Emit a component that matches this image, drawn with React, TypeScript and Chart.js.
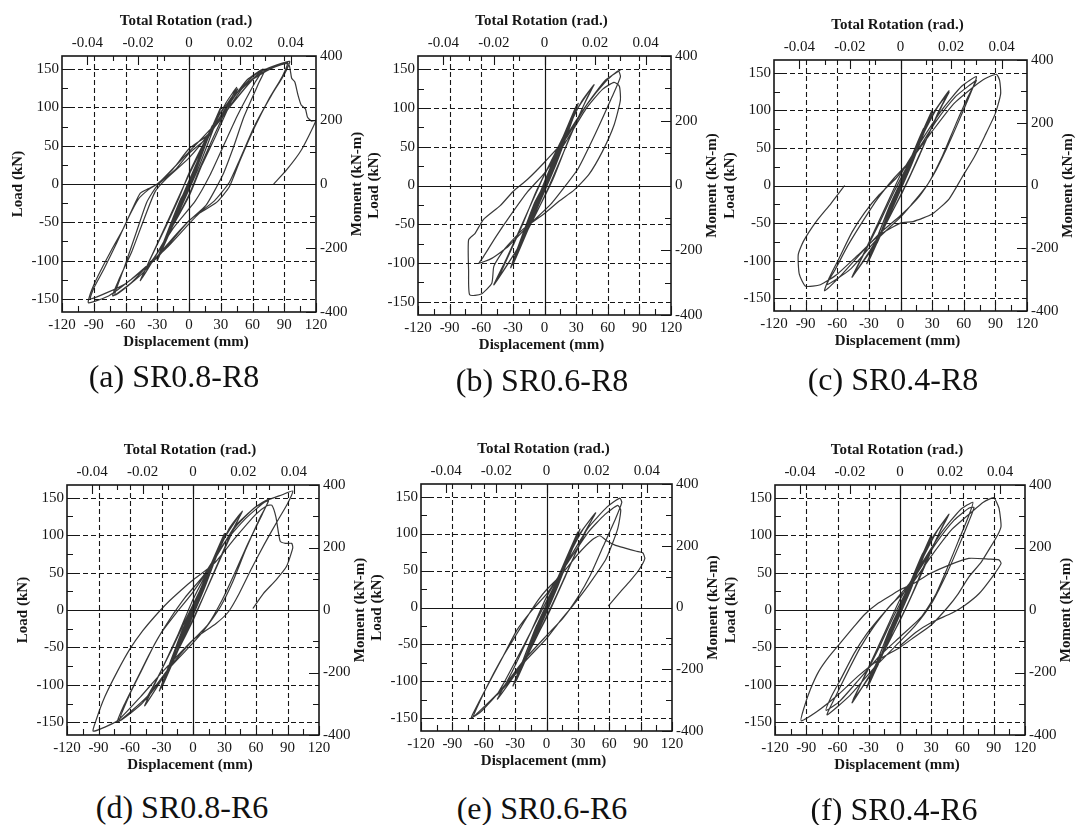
import React, { useEffect, useRef } from 'react';
import { Chart, registerables } from 'chart.js';

Chart.register(...registerables);

// ---------- axis values ----------
const dispTicks = [-120, -90, -60, -30, 0, 30, 60, 90, 120];
const dispMinor = [-105, -75, -45, -15, 15, 45, 75, 105];
const dispGrid = [-90, -60, -30, 30, 60, 90];
const loadTicks = [-150, -100, -50, 0, 50, 100, 150];
const loadMinor = [-125, -75, -25, 25, 75, 125];
const loadGrid = [-150, -100, -50, 50, 100, 150];
const momentTicks = [-400, -200, 0, 200, 400];
const momentMinor = [-300, -100, 100, 300];
const rotationTicks = [-0.04, -0.02, 0, 0.02, 0.04];
const rotationMinor = [-0.03, -0.01, 0.01, 0.03];
const rotationPerMm = 0.04 / 96;
const dispRange = [-120, 120];
const loadRange = [-167, 167];
const momentRange = [-400, 400];

// ---------- hysteresis curves: [displacement (mm), load (kN)] ----------
const curveA: number[][] = [
  [0, 0], [8, 28], [1, 3], [-8, -28], [-1, -3],
  [15, 52], [3, 8], [-15, -52], [-3, -8],
  [22, 76], [5, 12], [-22, -74], [-5, -12],
  [30, 100], [20, 68], [6, 15], [-5, -22], [-30, -100], [-20, -66], [-6, -15], [5, 20],
  [30, 98], [8, 18], [-30, -98], [-8, -20], [0, 0],
  [20, 66], [35, 106], [45, 126], [38, 106], [22, 58], [10, 20], [0, -14], [-20, -66], [-35, -102], [-45, -124], [-38, -102], [-22, -56], [-10, -20], [0, 14],
  [25, 82], [46, 124], [40, 108], [25, 62], [12, 24], [0, -16], [-25, -78], [-46, -126], [-36, -96], [-18, -42], [0, 12],
  [18, 60], [36, 100], [55, 136], [70, 150], [63, 134], [46, 90], [32, 48], [20, 12], [6, -22], [-14, -56], [-34, -98], [-54, -128], [-72, -146], [-66, -124], [-54, -88], [-42, -44], [-32, -10], [-22, 6], [0, 34], [20, 68],
  [40, 110], [60, 140], [72, 150], [66, 132], [52, 88], [42, 48], [32, 12], [16, -28], [0, -48], [-20, -78], [-45, -118], [-70, -145], [-62, -112], [-50, -64], [-40, -24], [-30, -2], [-12, 20], [0, 40],
  [15, 58], [30, 86], [45, 112], [60, 136], [75, 150], [93, 158], [88, 140], [76, 112], [62, 74], [48, 30], [38, -4], [26, -24], [10, -38], [0, -52], [-20, -82], [-36, -102], [-56, -126], [-76, -146], [-95, -155],
  [-93, -142], [-86, -120], [-74, -88], [-62, -58], [-54, -34], [-46, -12], [-38, -6], [-30, 0], [-16, 18], [0, 46], [16, 62], [32, 88], [50, 124], [70, 148], [95, 160],
  [90, 143], [78, 116], [62, 76], [48, 32], [38, 2], [24, -22], [0, -48], [-30, -96], [-60, -130], [-93, -150], [-90, -136], [-80, -110], [-68, -76], [-58, -46], [-48, -20], [-38, -7], [-28, 2], [0, 42], [30, 86], [60, 136], [80, 152], [94, 157],
  [97, 138], [100, 133], [103, 116], [106, 103], [110, 98], [112, 87], [116, 82], [120, 83], [106, 44], [92, 18], [80, 0],
];

const curveB: number[][] = [
  [0, 0], [8, 28], [1, 3], [-8, -28], [-1, -3],
  [15, 52], [3, 8], [-15, -52], [-3, -8],
  [22, 76], [5, 12], [-22, -76], [-5, -12],
  [30, 102], [8, 20], [-30, -102], [-8, -20], [0, 0],
  [32, 106], [10, 24], [-32, -106], [-10, -24], [0, 2],
  [20, 66], [35, 108], [47, 130], [40, 112], [22, 56], [8, 8], [-8, -36], [-25, -80], [-46, -124], [-40, -108], [-22, -54], [-8, -8], [8, 36],
  [30, 96], [46, 128], [36, 100], [16, 36], [0, -14], [-24, -78], [-48, -128], [-36, -94], [-16, -34], [0, 14],
  [20, 62], [40, 104], [58, 134], [70, 148], [72, 140], [64, 114], [48, 66], [32, 22], [20, 0], [6, -24], [-14, -50], [-34, -78], [-50, -94], [-62, -100], [-58, -92], [-46, -66], [-32, -38], [-16, -8], [0, 16], [20, 56], [40, 100],
  [55, 124], [66, 133], [71, 128], [72, 110], [66, 78], [55, 44], [42, 14], [28, -6], [14, -20], [0, -36], [-20, -56], [-38, -82], [-48, -104], [-50, -126], [-60, -140], [-71, -141], [-72, -110], [-72, -70], [-66, -62], [-58, -44], [-42, -26], [-30, -8], [-16, 8], [0, 30], [20, 60], [40, 104], [58, 136], [72, 149],
];

const curveC: number[][] = [
  [0, 0], [8, 28], [1, 3], [-8, -28], [-1, -3],
  [15, 52], [3, 8], [-15, -52], [-3, -8],
  [22, 76], [5, 12], [-22, -76], [-5, -12],
  [30, 100], [10, 26], [-30, -100], [-10, -26], [0, 0],
  [30, 98], [8, 20], [-32, -104], [-8, -20], [0, 4],
  [20, 64], [35, 104], [46, 124], [40, 108], [24, 60], [10, 16], [-6, -30], [-24, -78], [-44, -118], [-38, -100], [-20, -50], [-6, -8], [10, 36],
  [30, 94], [46, 126], [36, 98], [18, 40], [0, -14], [-26, -80], [-46, -122], [-34, -88], [-14, -28], [0, 14],
  [20, 60], [40, 102], [58, 132], [72, 145], [68, 128], [56, 88], [44, 50], [32, 16], [18, -14], [0, -40], [-20, -64], [-40, -94], [-58, -122], [-72, -140], [-68, -124], [-58, -96], [-46, -62], [-34, -36], [-20, -12], [-4, 10], [14, 42], [34, 86],
  [52, 118], [66, 134], [72, 140], [64, 118], [52, 80], [40, 40], [26, 2], [10, -26], [0, -42], [-24, -74], [-48, -112], [-70, -132], [-62, -112], [-50, -80], [-36, -48], [-22, -18], [-6, 10], [10, 34], [30, 72], [50, 108], [70, 132],
  [80, 142], [91, 148], [94, 140], [95, 122], [90, 96], [80, 66], [70, 38], [58, 10], [46, -18], [30, -38], [12, -48], [0, -50], [-20, -66], [-40, -92], [-60, -118], [-76, -132], [-90, -134], [-96, -118], [-97, -92], [-92, -74], [-80, -48], [-66, -24], [-53, 0],
];

const curveD: number[][] = [
  [0, 0], [8, 28], [1, 3], [-8, -28], [-1, -3],
  [15, 52], [3, 8], [-15, -52], [-3, -8],
  [22, 76], [5, 12], [-22, -76], [-5, -12],
  [30, 102], [10, 26], [-30, -104], [-10, -26], [0, 0],
  [30, 100], [8, 20], [-32, -108], [-8, -20], [0, 4],
  [20, 66], [35, 110], [46, 130], [40, 112], [24, 62], [10, 18], [-6, -30], [-24, -80], [-45, -120], [-38, -102], [-20, -52], [-6, -10], [10, 36],
  [30, 96], [47, 132], [36, 102], [18, 44], [0, -14], [-26, -84], [-46, -128], [-34, -92], [-14, -32], [0, 14],
  [20, 66], [40, 110], [58, 136], [72, 148], [66, 128], [52, 88], [40, 50], [28, 14], [14, -20], [0, -40], [-22, -76], [-44, -116], [-72, -150], [-66, -128], [-54, -94], [-42, -60], [-30, -30], [-16, -4], [0, 24], [20, 66],
  [40, 112], [60, 138], [72, 146], [64, 124], [50, 80], [38, 38], [26, 4], [10, -28], [0, -44], [-24, -80], [-48, -124], [-70, -148], [-60, -112], [-48, -78], [-36, -44], [-22, -12], [-8, 16], [10, 46], [30, 90],
  [50, 122], [70, 146], [85, 154], [95, 159], [90, 142], [80, 118], [68, 88], [56, 56], [44, 22], [34, -2], [22, -18], [0, -40], [-30, -84], [-50, -116], [-72, -148], [-95, -162],
  [-92, -146], [-84, -116], [-72, -82], [-60, -52], [-48, -28], [-36, -8], [-24, 10], [-10, 28], [0, 40], [20, 62], [40, 96], [60, 128], [70, 139],
  [75, 140], [79, 124], [83, 92], [88, 89], [94, 89], [95, 83], [89, 58], [79, 40], [67, 22], [57, 2],
];

const curveE: number[][] = [
  [0, 0], [8, 28], [1, 3], [-8, -28], [-1, -3],
  [15, 52], [3, 8], [-15, -52], [-3, -8],
  [22, 76], [5, 12], [-22, -76], [-5, -12],
  [30, 102], [10, 26], [-30, -102], [-10, -26], [0, 0],
  [32, 106], [8, 20], [-32, -106], [-8, -20], [0, 4],
  [20, 66], [35, 106], [46, 126], [40, 110], [24, 62], [10, 18], [-6, -30], [-24, -80], [-47, -118], [-40, -100], [-22, -52], [-6, -8], [10, 36],
  [30, 96], [47, 128], [36, 100], [18, 42], [0, -14], [-26, -82], [-47, -124], [-34, -90], [-14, -30], [0, 14],
  [20, 62], [40, 108], [58, 136], [70, 148], [72, 142], [66, 120], [54, 82], [42, 44], [30, 14], [16, -14], [0, -38], [-22, -72], [-44, -112], [-72, -150], [-64, -126], [-52, -94], [-40, -62], [-28, -30], [-14, -4], [0, 18], [20, 60], [40, 102],
  [56, 126], [68, 138], [71, 132], [68, 106], [57, 66], [40, 30], [26, 4], [12, -20], [0, -42], [-20, -72], [-40, -106], [-62, -140], [-70, -148], [-66, -134], [-56, -104], [-44, -72], [-32, -44], [-20, -16], [-8, 10], [0, 24], [14, 44], [30, 72], [44, 92],
  [51, 97], [58, 90], [66, 84], [76, 80], [86, 76], [92, 74], [94, 66], [88, 50], [80, 36], [70, 20], [59, 2],
];

const curveF: number[][] = [
  [0, 0], [8, 28], [1, 3], [-8, -28], [-1, -3],
  [15, 52], [3, 8], [-15, -52], [-3, -8],
  [22, 76], [5, 12], [-22, -76], [-5, -12],
  [30, 100], [10, 26], [-30, -100], [-10, -26], [0, 0],
  [30, 98], [8, 20], [-32, -104], [-8, -20], [0, 4],
  [20, 64], [35, 104], [46, 126], [40, 110], [24, 62], [10, 16], [-6, -30], [-24, -78], [-45, -120], [-38, -100], [-20, -50], [-6, -8], [10, 36],
  [30, 94], [47, 128], [36, 98], [18, 40], [0, -14], [-26, -80], [-46, -124], [-34, -88], [-14, -28], [0, 14],
  [20, 60], [40, 104], [58, 134], [70, 144], [66, 126], [56, 92], [46, 58], [34, 20], [20, -10], [0, -36], [-20, -62], [-40, -94], [-58, -122], [-71, -134], [-66, -116], [-56, -90], [-44, -58], [-32, -32], [-18, -8], [-4, 14], [14, 44], [34, 88],
  [52, 120], [66, 136], [71, 137], [66, 118], [56, 84], [44, 46], [30, 8], [14, -22], [0, -42], [-24, -76], [-48, -114], [-70, -140], [-62, -116], [-50, -82], [-38, -50], [-24, -20], [-8, 8], [10, 32], [30, 72], [50, 108], [68, 130],
  [80, 144], [90, 150], [95, 136], [97, 112], [94, 101], [86, 82], [78, 64], [66, 44], [56, 22], [46, 4], [30, -20], [14, -36], [0, -50], [-20, -66], [-40, -88], [-60, -114], [-80, -136], [-95, -148],
  [-92, -130], [-86, -106], [-78, -82], [-68, -62], [-56, -42], [-44, -22], [-34, -6], [-22, 8], [-8, 20], [0, 27], [14, 36], [28, 48], [47, 60], [66, 69], [86, 68], [95, 67], [97, 62], [89, 45], [76, 22], [62, 6], [50, -4], [31, -16], [15, -30], [0, -48],
];

const captions = ['(a) SR0.8-R8', '(b) SR0.6-R8', '(c) SR0.4-R8', '(d) SR0.8-R6', '(e) SR0.6-R6', '(f) SR0.4-R6'];
const curves = [curveA, curveB, curveC, curveD, curveE, curveF];

// ---------- layout (plot-area boxes in page pixels, caption centres) ----------
const layouts = [
  { l: 62, t: 56, r: 316, b: 312, cx: 174, cy: 376 },
  { l: 418, t: 56, r: 671, b: 315, cx: 542, cy: 380 },
  { l: 774, t: 60, r: 1027, b: 311, cx: 893, cy: 379 },
  { l: 67, t: 485, r: 319, b: 735, cx: 182, cy: 807 },
  { l: 421, t: 484, r: 672, b: 731, cx: 542, cy: 808 },
  { l: 775, t: 485, r: 1025, b: 735, cx: 894, cy: 809 },
];

const AX_L = 62;
const AX_R = 52;
const AX_T = 56;
const AX_B = 50;
const FONT = "'Liberation Serif', 'Times New Roman', serif";
const INK = '#161616';

const framePlugin = {
  id: 'frame',
  beforeDatasetsDraw(chart: any) {
    const { ctx, chartArea: a } = chart;
    const sx = chart.scales.x;
    const sy = chart.scales.y;
    ctx.save();
    ctx.strokeStyle = INK;
    ctx.lineWidth = 1.1;
    ctx.setLineDash([5, 3]);
    ctx.beginPath();
    for (const v of dispGrid) {
      const p = Math.round(sx.getPixelForValue(v)) + 0.5;
      ctx.moveTo(p, a.top);
      ctx.lineTo(p, a.bottom);
    }
    for (const v of loadGrid) {
      const p = Math.round(sy.getPixelForValue(v)) + 0.5;
      ctx.moveTo(a.left, p);
      ctx.lineTo(a.right, p);
    }
    ctx.stroke();
    ctx.setLineDash([]);
    ctx.lineWidth = 1.2;
    ctx.beginPath();
    const x0 = Math.round(sx.getPixelForValue(0)) + 0.5;
    const y0 = Math.round(sy.getPixelForValue(0)) + 0.5;
    ctx.moveTo(x0, a.top);
    ctx.lineTo(x0, a.bottom);
    ctx.moveTo(a.left, y0);
    ctx.lineTo(a.right, y0);
    ctx.stroke();
    ctx.restore();
  },
  afterDatasetsDraw(chart: any) {
    const { ctx, chartArea: a } = chart;
    const sx = chart.scales.x;
    const sx2 = chart.scales.x2;
    const sy = chart.scales.y;
    const sy2 = chart.scales.y2;
    ctx.save();
    ctx.strokeStyle = INK;
    ctx.lineWidth = 1.6;
    ctx.strokeRect(a.left, a.top, a.right - a.left, a.bottom - a.top);
    ctx.lineWidth = 1.1;
    ctx.beginPath();
    const hTick = (s: any, vals: number[], len: number, edge: number, dir: number) => {
      for (const v of vals) {
        const p = Math.round(s.getPixelForValue(v)) + 0.5;
        ctx.moveTo(p, edge);
        ctx.lineTo(p, edge + dir * len);
      }
    };
    const vTick = (s: any, vals: number[], len: number, edge: number, dir: number) => {
      for (const v of vals) {
        const p = Math.round(s.getPixelForValue(v)) + 0.5;
        ctx.moveTo(edge, p);
        ctx.lineTo(edge + dir * len, p);
      }
    };
    hTick(sx, dispTicks, 9, a.bottom, -1);
    hTick(sx, dispMinor, 6, a.bottom, -1);
    hTick(sx2, rotationTicks, 9, a.top, 1);
    hTick(sx2, rotationMinor, 5, a.top, 1);
    vTick(sy, loadTicks, 9, a.left, 1);
    vTick(sy, loadMinor, 6, a.left, 1);
    vTick(sy2, momentTicks, 10, a.right, -1);
    vTick(sy2, momentMinor, 6, a.right, -1);
    ctx.stroke();

    ctx.fillStyle = INK;
    ctx.font = `bold 15px ${FONT}`;
    ctx.textAlign = 'center';
    ctx.textBaseline = 'middle';
    const cx = (a.left + a.right) / 2 - 3;
    const cy = (a.top + a.bottom) / 2;
    ctx.fillText('Total Rotation (rad.)', cx, a.top - 35);
    ctx.fillText('Displacement (mm)', cx, a.bottom + 30);
    ctx.save();
    ctx.translate(a.left - 44, cy);
    ctx.rotate(-Math.PI / 2);
    ctx.fillText('Load (kN)', 0, 0);
    ctx.restore();
    ctx.save();
    ctx.translate(a.right + 41, cy);
    ctx.rotate(-Math.PI / 2);
    ctx.fillText('Moment (kN-m)', 0, 0);
    ctx.restore();
    ctx.restore();
  },
};

const tickFont = { family: FONT, size: 15 };

function setTicks(vals: number[]) {
  return (s: any) => {
    s.ticks = vals.map((v) => ({ value: v }));
  };
}

function Panel({ pts, box }: { pts: number[][]; box: any }) {
  const ref = useRef<HTMLCanvasElement>(null);
  const w = box.r - box.l + AX_L + AX_R;
  const h = box.b - box.t + AX_T + AX_B;
  useEffect(() => {
    if (!ref.current) return;
    const chart = new Chart(ref.current, {
      type: 'scatter',
      data: {
        datasets: [
          {
            data: pts.map(([x, y]) => ({ x, y })),
            showLine: true,
            borderColor: 'rgba(28,28,28,0.88)',
            borderWidth: 1.2,
            pointRadius: 0,
            tension: 0.18,
            fill: false,
          } as any,
        ],
      },
      options: {
        responsive: false,
        maintainAspectRatio: false,
        animation: false,
        events: [],
        layout: { padding: 0 },
        plugins: { legend: { display: false }, tooltip: { enabled: false } },
        scales: {
          x: {
            type: 'linear',
            position: 'bottom',
            min: dispRange[0],
            max: dispRange[1],
            afterBuildTicks: setTicks(dispTicks),
            afterFit: (s: any) => { s.height = AX_B; },
            grid: { display: false, drawTicks: false },
            border: { display: false },
            ticks: { font: tickFont, color: INK, padding: 4, autoSkip: false, maxRotation: 0, minRotation: 0, callback: (v: any) => String(v) },
          },
          x2: {
            type: 'linear',
            axis: 'x',
            position: 'top',
            min: dispRange[0] * rotationPerMm,
            max: dispRange[1] * rotationPerMm,
            afterBuildTicks: setTicks(rotationTicks),
            afterFit: (s: any) => { s.height = AX_T; },
            grid: { display: false, drawTicks: false },
            border: { display: false },
            ticks: { font: tickFont, color: INK, padding: 4, autoSkip: false, maxRotation: 0, minRotation: 0, callback: (v: any) => (v === 0 ? '0' : Number(v).toFixed(2)) },
          },
          y: {
            type: 'linear',
            position: 'left',
            min: loadRange[0],
            max: loadRange[1],
            afterBuildTicks: setTicks(loadTicks),
            afterFit: (s: any) => { s.width = AX_L; },
            grid: { display: false, drawTicks: false },
            border: { display: false },
            ticks: { font: tickFont, color: INK, padding: 3, autoSkip: false, callback: (v: any) => String(v) },
          },
          y2: {
            type: 'linear',
            axis: 'y',
            position: 'right',
            min: momentRange[0],
            max: momentRange[1],
            afterBuildTicks: setTicks(momentTicks),
            afterFit: (s: any) => { s.width = AX_R; },
            grid: { display: false, drawTicks: false },
            border: { display: false },
            ticks: { font: tickFont, color: INK, padding: 4, autoSkip: false, callback: (v: any) => String(v) },
          },
        },
      } as any,
      plugins: [framePlugin],
    });
    return () => chart.destroy();
  }, []);
  return (
    <canvas
      ref={ref}
      width={w}
      height={h}
      style={{ position: 'absolute', left: box.l - AX_L, top: box.t - AX_T, width: w, height: h }}
    />
  );
}

export default function App() {
  return (
    <div
      style={{
        position: 'absolute',
        left: 0,
        top: 0,
        width: 1076,
        height: 825,
        overflow: 'hidden',
        background: '#ffffff',
      }}
    >
      {curves.map((pts, i) => (
        <Panel key={i} pts={pts} box={layouts[i]} />
      ))}
      {captions.map((c, i) => (
        <div
          key={'c' + i}
          style={{
            position: 'absolute',
            left: layouts[i].cx,
            top: layouts[i].cy,
            transform: 'translate(-50%, -50%)',
            fontFamily: FONT,
            fontSize: 32,
            lineHeight: 1,
            whiteSpace: 'nowrap',
            color: '#111',
          }}
        >
          {c}
        </div>
      ))}
    </div>
  );
}
